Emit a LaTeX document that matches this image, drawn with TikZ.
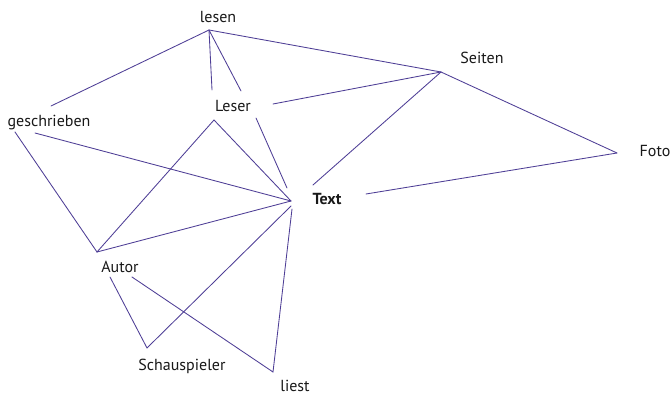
\documentclass[tikz,border=0pt]{standalone}
\usepackage{fontspec}
\setmainfont{PT Sans}
\begin{document}
\begin{tikzpicture}[x=1pt,y=-1pt,
  lbl/.style={anchor=base,inner sep=0pt,font=\fontsize{16}{17}\selectfont,text=black!90},
  edge/.style={draw={rgb,255:red,78;green,62;blue,150},line width=0.85pt,line cap=round}]
\useasboundingbox[fill=white] (0,0) rectangle (671,395);
% labels
\node[lbl] (lesen) at (218,23) {lesen};
\node[lbl] (leser) at (233,112) {Leser};
\node[lbl] (geschrieben) at (49,127) {geschrieben};
\node[lbl,font=\fontsize{16}{17}\selectfont\bfseries] (text) at (327,205) {Text};
\node[lbl] (seiten) at (482,64) {Seiten};
\node[lbl] (foto) at (655,157) {Foto};
\node[lbl] (autor) at (120,272) {Autor};
\node[lbl] (schauspieler) at (182,370) {Schauspieler};
\node[lbl] (liest) at (295,391) {liest};
% vertex points
\coordinate (vL) at (209,30);
\coordinate (vS) at (441,72);
\coordinate (vF) at (617,153);
\coordinate (vT) at (291,201);
\coordinate (vT2) at (291,206);
\coordinate (vA) at (97,252);
\coordinate (vSch) at (147,348);
\coordinate (vLi) at (273,372);
% line ends near labels
\coordinate (lsTopA) at (212,90);
\coordinate (lsTopB) at (241,91);
\coordinate (lsRight) at (273,104);
\coordinate (lsApex) at (214,120);
\coordinate (lsLow) at (256,118);
\coordinate (geTop) at (51,106);
\coordinate (geLowL) at (15,132);
\coordinate (geLowR) at (35,133);
\coordinate (txTop) at (287,188);
\coordinate (txTL) at (313,185);
\coordinate (txR) at (366,194);
\coordinate (txLow) at (292,209);
\coordinate (auL) at (110,277);
\coordinate (auR) at (132,277);
% connectors
\draw[edge] (vL) -- (vS);
\draw[edge] (vL) -- (geTop);
\draw[edge] (vL) -- (lsTopA);
\draw[edge] (vL) -- (lsTopB);
\draw[edge] (lsRight) -- (vS);
\draw[edge] (lsLow) -- (txTop);
\draw[edge] (vA) -- (lsApex) -- (vT);
\draw[edge] (geLowL) -- (vA);
\draw[edge] (geLowR) -- (vT);
\draw[edge] (vS) -- (txTL);
\draw[edge] (vF) -- (txR);
\draw[edge] (vS) -- (vF);
\draw[edge] (vA) -- (vT);
\draw[edge] (auL) -- (vSch) -- (vT2);
\draw[edge] (auR) -- (vLi) -- (txLow);
\end{tikzpicture}
\end{document}
